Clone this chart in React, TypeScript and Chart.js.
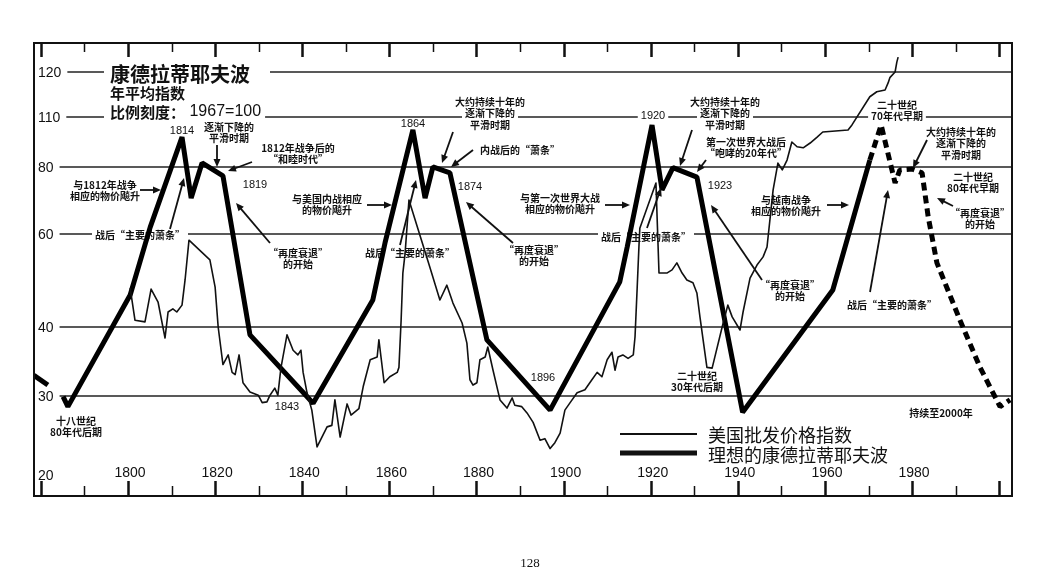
import React, { useEffect, useRef } from 'react';
import { Chart, LinearScale, registerables } from 'chart.js';

// ---------------- data ----------------
const Y_TICKS = [20, 30, 40, 60, 80, 110, 120];
const X_LABEL_YEARS = [1800, 1820, 1840, 1860, 1880, 1900, 1920, 1940, 1960, 1980];
const X_TICK_YEARS = [1780, 1790, 1800, 1810, 1820, 1830, 1840, 1850, 1860, 1870, 1880, 1890, 1900, 1910, 1920, 1930, 1940, 1950, 1960, 1970, 1980, 1990, 2000];

const wpiYears = [
  1800.5, 1801.6, 1803.9, 1805.3, 1806.9, 1808.5, 1809.2, 1810.3, 1811.2, 1812.4, 1813.1, 1814.0,
  1818.8, 1820.0, 1820.7, 1821.8, 1823.0, 1823.9, 1824.6, 1825.5, 1826.4, 1828.0, 1829.9, 1830.8,
  1831.9, 1832.6, 1833.7, 1834.4, 1835.1, 1836.5, 1837.9, 1839.0, 1839.7, 1840.2, 1841.1, 1842.2,
  1843.4, 1845.7, 1846.8, 1847.5, 1848.7, 1850.3, 1851.2, 1853.0, 1854.0, 1855.6, 1857.2, 1857.6,
  1858.8, 1860.1, 1861.8, 1862.2, 1862.7, 1863.1, 1863.6, 1864.5, 1869.3, 1871.6, 1873.2, 1874.6,
  1876.7, 1877.8, 1878.5, 1879.2, 1880.1, 1880.8, 1882.0, 1882.6, 1883.8, 1885.4, 1887.0, 1888.2,
  1888.8, 1890.4, 1891.6, 1893.0, 1894.6, 1895.7, 1896.9, 1898.0, 1899.2, 1900.3, 1901.5, 1903.1,
  1904.9, 1906.5, 1907.7, 1908.8, 1910.0, 1911.1, 1911.8, 1912.5, 1913.6, 1914.8, 1916.0, 1916.4,
  1916.9, 1917.3, 1917.5, 1921.2, 1921.9, 1923.7, 1924.9, 1926.0, 1927.2, 1928.3, 1929.7, 1930.6,
  1931.3, 1932.9, 1934.1, 1936.4, 1937.7, 1938.7, 1940.5, 1941.2, 1942.8, 1944.4, 1945.8, 1946.7,
  1948.1, 1949.2, 1950.2, 1951.3, 1952.4, 1953.6, 1955.0, 1956.6, 1958.2, 1959.5, 1965.3, 1966.2,
  1970.3, 1971.9, 1973.8, 1974.5, 1974.9, 1976.1, 1976.5, 1976.8,
];
const wpiValues = [
  47.4, 41.2, 40.9, 47.2, 44.6, 38.2, 42.7, 43.3, 42.7, 44.0, 49.1, 58.4,
  53.6, 47.6, 40.0, 34.2, 35.6, 33.1, 32.8, 35.6, 31.7, 30.5, 30.1, 29.0,
  29.1, 30.1, 31.0, 30.1, 33.7, 38.7, 36.3, 35.6, 36.3, 33.1, 30.4, 27.9,
  23.1, 25.6, 25.8, 29.4, 24.3, 28.8, 27.2, 28.1, 31.2, 34.9, 35.3, 37.9,
  31.7, 32.5, 33.1, 33.8, 41.2, 50.6, 55.0, 69.4, 51.9, 45.0, 48.0, 44.4,
  40.7, 37.4, 32.1, 31.4, 31.7, 34.9, 35.3, 36.8, 33.4, 29.4, 28.2, 29.7,
  28.6, 28.4, 27.5, 26.2, 23.9, 24.1, 22.9, 23.6, 24.8, 27.9, 29.0, 30.4,
  30.8, 32.1, 33.1, 32.5, 34.9, 36.0, 33.4, 35.3, 35.6, 35.1, 35.6, 38.4,
  47.6, 56.9, 61.5, 74.7, 50.6, 50.6, 51.3, 52.9, 50.6, 49.1, 48.5, 46.4,
  41.8, 33.8, 33.7, 40.0, 44.0, 41.8, 39.5, 42.7, 49.5, 52.4, 54.3, 56.7,
  72.5, 82.0, 79.0, 83.6, 93.8, 91.0, 90.4, 93.2, 96.8, 100.0, 101.3, 104.6,
  114.4, 115.5, 115.9, 117.5, 118.7, 120.0, 122.3, 123.5,
];

const waveStubYears = [1778.4, 1781.6];
const waveStubValues = [32.7, 31.4];

const waveYears = [
  1785.1, 1786.2, 1800.5, 1805.1, 1812.4, 1814.5, 1817.0, 1821.8, 1828.0, 1842.5, 1856.2, 1859.0,
  1865.4, 1868.2, 1870.0, 1873.9, 1882.4, 1896.9, 1912.9, 1914.6, 1920.3, 1922.6, 1925.1, 1930.6,
  1941.1, 1961.8, 1970.3,
];
const waveValues = [
  29.9, 28.4, 46.0, 61.8, 96.8, 70.0, 82.1, 77.0, 38.7, 28.9, 45.0, 57.7,
  101.3, 70.0, 80.0, 78.0, 37.9, 27.9, 48.7, 56.7, 104.5, 72.5, 79.8, 76.6,
  27.6, 47.0, 83.6,
];

const forecastYears = [1970.3, 1972.9, 1976.1, 1977.2, 1980.0, 1982.3, 1983.7, 1985.7, 1991.0, 1995.6, 2000.2, 2002.5];
const forecastValues = [83.6, 104.5, 74.7, 79.0, 79.3, 78.0, 64.6, 52.9, 41.2, 33.8, 28.4, 29.4];

// ---------------- axis definition (relative heights of the printed tick marks) ----------------
const Y_TICK_FRACTIONS = [0.0464, 0.2208, 0.3731, 0.5784, 0.7263, 0.8366, 0.936];

function valueToFrac(v: number) {
  const V = Y_TICKS, F = Y_TICK_FRACTIONS;
  let i = 0;
  while (i < V.length - 2 && v > V[i + 1]) i++;
  const t = Math.log(v / V[i]) / Math.log(V[i + 1] / V[i]);
  return F[i] + t * (F[i + 1] - F[i]);
}
function fracToValue(f: number) {
  const V = Y_TICKS, F = Y_TICK_FRACTIONS;
  let i = 0;
  while (i < F.length - 2 && f > F[i + 1]) i++;
  const t = (f - F[i]) / (F[i + 1] - F[i]);
  return V[i] * Math.pow(V[i + 1] / V[i], t);
}

class KondratieffScale extends LinearScale {
  static id = 'kondratieff';
  static defaults = {};
  getPixelForValue(value: number) {
    return this.bottom - valueToFrac(value) * (this.bottom - this.top);
  }
  getValueForPixel(pixel: number) {
    return fracToValue((this.bottom - pixel) / (this.bottom - this.top));
  }
}

Chart.register(...registerables, KondratieffScale);

const pts = (xs: number[], ys: number[]) => xs.map((x, i) => ({ x, y: ys[i] }));

// ---------------- annotations ----------------
const CJK = '"Noto Sans CJK SC", "Noto Sans", sans-serif';
const NUM = '"Liberation Sans", Arial, sans-serif';
const INK = '#111';

type Note = { t: string[]; x: number; y: number; s?: number; num?: boolean; bg?: boolean };
const NOTES: Note[] = [
  { t: ['1814'], x: 182, y: 131, num: true },
  { t: ['逐渐下降的', '平滑时期'], x: 229, y: 127 },
  { t: ['1812年战争后的', '“和睦时代”'], x: 298, y: 148 },
  { t: ['1819'], x: 255, y: 185, num: true },
  { t: ['与1812年战争', '相应的物价飚升'], x: 105, y: 185 },
  { t: ['战后“主要的萧条”'], x: 140, y: 235, bg: true },
  { t: ['“再度衰退”', '的开始'], x: 298, y: 253 },
  { t: ['1843'], x: 287, y: 407, num: true },
  { t: ['十八世纪', '80年代后期'], x: 76, y: 421 },
  { t: ['1864'], x: 413, y: 124, num: true },
  { t: ['大约持续十年的', '逐渐下降的', '平滑时期'], x: 490, y: 102, bg: true },
  { t: ['内战后的“萧条”'], x: 520, y: 150 },
  { t: ['1874'], x: 470, y: 187, num: true },
  { t: ['与美国内战相应', '的物价飚升'], x: 327, y: 199 },
  { t: ['战后“主要的萧条”'], x: 410, y: 253 },
  { t: ['“再度衰退”', '的开始'], x: 534, y: 250 },
  { t: ['1896'], x: 543, y: 378, num: true },
  { t: ['与第一次世界大战', '相应的物价飚升'], x: 560, y: 198 },
  { t: ['1920'], x: 653, y: 116, num: true, bg: true },
  { t: ['大约持续十年的', '逐渐下降的', '平滑时期'], x: 725, y: 102, bg: true },
  { t: ['第一次世界大战后', '“咆哮的20年代”'], x: 746, y: 142 },
  { t: ['1923'], x: 720, y: 186, num: true },
  { t: ['战后“主要的萧条”'], x: 646, y: 237, bg: true },
  { t: ['与越南战争', '相应的物价飚升'], x: 786, y: 200 },
  { t: ['“再度衰退”', '的开始'], x: 790, y: 285 },
  { t: ['战后“主要的萧条”'], x: 892, y: 305 },
  { t: ['二十世纪', '30年代后期'], x: 697, y: 376 },
  { t: ['二十世纪', '70年代早期'], x: 897, y: 105, bg: true },
  { t: ['大约持续十年的', '逐渐下降的', '平滑时期'], x: 961, y: 132 },
  { t: ['二十世纪', '80年代早期'], x: 973, y: 177 },
  { t: ['“再度衰退”', '的开始'], x: 980, y: 213 },
  { t: ['持续至2000年'], x: 941, y: 413 },
];

// arrows: tail (x1,y1) -> head (x2,y2)
const ARROWS = [
  [140, 190, 161, 190],
  [217, 145, 217, 167],
  [252, 162, 228, 171],
  [270, 243, 236, 203],
  [170, 229, 184, 178],
  [367, 205, 392, 205],
  [453, 132, 442, 163],
  [473, 150, 451, 167],
  [400, 245, 416, 180],
  [513, 243, 466, 202],
  [605, 205, 630, 205],
  [692, 130, 680, 166],
  [706, 160, 697, 172],
  [647, 228, 661, 188],
  [762, 280, 711, 205],
  [827, 205, 849, 205],
  [870, 292, 888, 190],
  [927, 140, 913, 168],
  [953, 206, 937, 198],
];

function drawArrow(ctx: CanvasRenderingContext2D, x1: number, y1: number, x2: number, y2: number) {
  const a = Math.atan2(y2 - y1, x2 - x1);
  const h = 8, w = 3.5;
  ctx.save();
  ctx.strokeStyle = INK;
  ctx.fillStyle = INK;
  ctx.lineWidth = 1.8;
  ctx.beginPath();
  ctx.moveTo(x1, y1);
  ctx.lineTo(x2 - Math.cos(a) * h * 0.8, y2 - Math.sin(a) * h * 0.8);
  ctx.stroke();
  ctx.beginPath();
  ctx.moveTo(x2, y2);
  ctx.lineTo(x2 - Math.cos(a) * h - Math.sin(a) * w, y2 - Math.sin(a) * h + Math.cos(a) * w);
  ctx.lineTo(x2 - Math.cos(a) * h + Math.sin(a) * w, y2 - Math.sin(a) * h - Math.cos(a) * w);
  ctx.closePath();
  ctx.fill();
  ctx.restore();
}

function textBlock(ctx: CanvasRenderingContext2D, n: Note) {
  const size = n.s || (n.num ? 11 : 10);
  ctx.font = n.num ? `${size}px ${NUM}` : `bold ${size}px ${CJK}`;
  ctx.textAlign = 'center';
  ctx.textBaseline = 'middle';
  const gap = size + 1.5;
  n.t.forEach((line, i) => {
    const y = n.y + i * gap;
    if (n.bg) {
      const w = ctx.measureText(line).width;
      ctx.fillStyle = '#fff';
      ctx.fillRect(n.x - w / 2 - 3, y - gap / 2 - 1, w + 6, gap + 2);
    }
    ctx.fillStyle = INK;
    ctx.fillText(line, n.x, y);
  });
}

const paperPlugin = {
  id: 'paper',
  beforeDraw(chart: any) {
    const ctx = chart.ctx as CanvasRenderingContext2D;
    ctx.save();
    ctx.fillStyle = '#fff';
    ctx.fillRect(0, 0, chart.width, chart.height);
    ctx.restore();
  },
  beforeDatasetsDraw(chart: any) {
    const ctx = chart.ctx as CanvasRenderingContext2D;
    const a = chart.chartArea;
    const xs = chart.scales.x;
    const ys = chart.scales.y;
    ctx.save();
    // y labels and grid lines
    ctx.font = `14px ${NUM}`;
    ctx.textBaseline = 'middle';
    ctx.textAlign = 'left';
    Y_TICKS.forEach((v) => {
      const py = ys.getPixelForValue(v);
      const lx = a.left + 4;
      const label = String(v);
      const w = ctx.measureText(label).width;
      if (v !== 20) {
        ctx.strokeStyle = '#222';
        ctx.lineWidth = 1.4;
        ctx.beginPath();
        ctx.moveTo(lx + w + 6, py);
        ctx.lineTo(a.right, py);
        ctx.stroke();
      }
      ctx.fillStyle = INK;
      ctx.fillText(label, lx, py + 1);
    });
    // x labels
    ctx.textAlign = 'center';
    X_LABEL_YEARS.forEach((yr) => {
      ctx.fillText(String(yr), xs.getPixelForValue(yr) + 2, a.bottom - 23);
    });

    // title block
    const tx = a.left + 76;
    const y120 = ys.getPixelForValue(120);
    const y110 = ys.getPixelForValue(110);
    ctx.textAlign = 'left';
    ctx.font = `bold 20px ${CJK}`;
    let w = ctx.measureText('康德拉蒂耶夫波').width;
    ctx.fillStyle = '#fff';
    ctx.fillRect(tx - 6, y120 - 12, w + 26, 24);
    ctx.fillStyle = INK;
    ctx.fillText('康德拉蒂耶夫波', tx, y120 + 2);
    ctx.font = `bold 15px ${CJK}`;
    ctx.fillText('年平均指数', tx, y120 + 21);
    const t1 = '比例刻度：';
    w = ctx.measureText(t1).width;
    ctx.font = `16px ${NUM}`;
    const w2 = ctx.measureText(' 1967=100').width;
    ctx.fillStyle = '#fff';
    ctx.fillRect(tx - 6, y110 - 14, w + w2 + 10, 16);
    ctx.fillStyle = INK;
    ctx.font = `bold 15px ${CJK}`;
    ctx.fillText(t1, tx, y110 - 5);
    ctx.font = `16px ${NUM}`;
    ctx.fillText(' 1967=100', tx + w, y110 - 5);

    NOTES.forEach((n) => textBlock(ctx, n));

    // legend
    const ly1 = 434, ly2 = 453;
    ctx.strokeStyle = INK;
    ctx.lineWidth = 2;
    ctx.beginPath();
    ctx.moveTo(620, ly1);
    ctx.lineTo(697, ly1);
    ctx.stroke();
    ctx.lineWidth = 5;
    ctx.beginPath();
    ctx.moveTo(620, ly2);
    ctx.lineTo(697, ly2);
    ctx.stroke();
    ctx.font = `18px ${CJK}`;
    ctx.textAlign = 'left';
    ctx.fillStyle = INK;
    ctx.fillText('美国批发价格指数', 708, ly1 + 1);
    ctx.fillText('理想的康德拉蒂耶夫波', 708, ly2 + 2);

    // page number
    ctx.font = `13px "Liberation Serif", serif`;
    ctx.textAlign = 'center';
    ctx.fillText('128', 530, 564);
    ctx.restore();
  },
  afterDatasetsDraw(chart: any) {
    const ctx = chart.ctx as CanvasRenderingContext2D;
    const a = chart.chartArea;
    const xs = chart.scales.x;
    ctx.save();
    ARROWS.forEach((r) => drawArrow(ctx, r[0], r[1], r[2], r[3]));
    ctx.strokeStyle = INK;
    ctx.lineWidth = 2;
    ctx.strokeRect(a.left, a.top, a.right - a.left, a.bottom - a.top);
    X_TICK_YEARS.forEach((yr) => {
      const px = Math.round(xs.getPixelForValue(yr)) + 0.5;
      const major = yr % 20 === 0;
      ctx.lineWidth = major ? 2.5 : 1.5;
      ctx.beginPath();
      ctx.moveTo(px, a.top);
      ctx.lineTo(px, a.top + (major ? 14 : 9));
      ctx.moveTo(px, a.bottom);
      ctx.lineTo(px, a.bottom - (major ? 15 : 10));
      ctx.stroke();
    });
    ctx.restore();
  },
};

export default function App() {
  const ref = useRef<HTMLCanvasElement>(null);
  useEffect(() => {
    const chart = new Chart(ref.current as HTMLCanvasElement, {
      type: 'line',
      data: {
        datasets: [
          {
            label: '美国批发价格指数',
            data: pts(wpiYears, wpiValues),
            borderColor: INK,
            borderWidth: 1.6,
            pointRadius: 0,
            tension: 0,
            borderJoinStyle: 'round',
          },
          {
            label: '理想的康德拉蒂耶夫波',
            data: pts(waveYears, waveValues),
            borderColor: '#000',
            borderWidth: 5,
            pointRadius: 0,
            tension: 0,
            borderJoinStyle: 'bevel',
          },
          {
            label: 'stub',
            data: pts(waveStubYears, waveStubValues),
            borderColor: '#000',
            borderWidth: 5,
            pointRadius: 0,
          },
          {
            label: 'forecast',
            data: pts(forecastYears, forecastValues),
            borderColor: '#000',
            borderWidth: 5,
            pointRadius: 0,
            borderDash: [8, 5],
            borderCapStyle: 'butt',
            borderJoinStyle: 'bevel',
          },
        ],
      },
      options: {
        responsive: false,
        animation: false,
        layout: { padding: { left: 34, top: 43, right: 48, bottom: 87 } },
        plugins: { legend: { display: false }, tooltip: { enabled: false } },
        scales: {
          x: { type: 'linear', min: 1778.42, max: 2002.94, display: false },
          y: { type: 'kondratieff' as any, min: 15, max: 130, display: false },
        },
      },
      plugins: [paperPlugin],
    });
    return () => chart.destroy();
  }, []);
  return (
    <div style={{ position: 'fixed', left: 0, top: 0, width: 1060, height: 583, background: '#fff' }}>
      <canvas ref={ref} width={1060} height={583} style={{ display: 'block', width: 1060, height: 583 }} />
    </div>
  );
}
